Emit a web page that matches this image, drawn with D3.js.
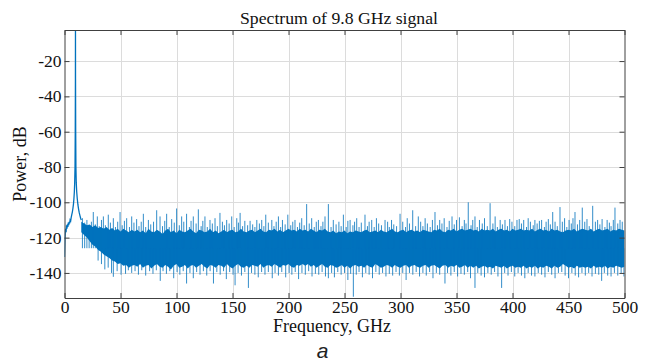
<!DOCTYPE html>
<html><head><meta charset="utf-8">
<script src="https://cdn.jsdelivr.net/npm/d3@7"></script>
<style>
html,body{margin:0;padding:0;background:#fff;}
svg{display:block;}
</style></head>
<body>
<svg id="chart" width="650" height="363"></svg>
<script>
// ---------- data ----------
const title = "Spectrum of 9.8 GHz signal";
const xLabel = "Frequency, GHz";
const yLabel = "Power, dB";
const panelLabel = "a";
const xTicks = [0, 50, 100, 150, 200, 250, 300, 350, 400, 450, 500];
const yTicks = [-140, -120, -100, -80, -60, -40, -20];

// low-frequency part including the carrier peak (GHz, dB)
const lowF = [0, 0.2, 0.4, 0.7, 1.0, 1.4, 1.8, 2.2, 2.6, 3.0, 3.4, 3.8, 4.2, 4.6, 5.0, 5.5, 6.0, 6.5, 7.0, 7.5, 8.0, 8.4, 8.8, 9.1, 9.4, 9.6, 9.75, 9.8, 9.85, 10.0, 10.2, 10.5, 10.9, 11.4, 12.0, 12.6, 13.2, 13.8, 14.4, 15.0];
const lowV = [-131, -126, -121, -117, -115, -117, -113, -115, -112.5, -114, -111.5, -113, -111, -112, -110, -110.5, -108.5, -107, -105.5, -103.5, -101, -98, -94, -89, -80, -60, -30, -1, -30, -60, -80, -89, -94, -98, -101.5, -104, -106, -107.5, -109, -110];

// dense noise floor: upper / lower edge of the solid band, every 2.5 GHz from 15 GHz
const coreF = d3.range(15, 500.01, 2.5);
const coreHi = [
  -111, -112, -113, -112.5, -114, -113, -114.5, -114, -115, -114, -115.5, -114.5, -116, -115, -116.5, -115, -116, -117, -115.5, -116.5,
  -115.5, -117, -116, -117.5, -115, -116.5, -117, -115.5, -116.5, -118, -116, -115, -117, -116, -117.5, -115.5, -116.5, -117, -116, -115,
  -116.5, -117.5, -115.5, -116, -117, -116.5, -115, -117, -116, -117.5, -116.5, -115.5, -117, -116, -115.5, -117, -116.5, -115, -116.5, -117,
  -116, -115.5, -117, -116, -115, -116.5, -117, -115.5, -116, -115, -116.5, -115.5, -117, -116, -115, -116, -115.5, -116.5, -115, -116,
  -115.5, -116.5, -115, -116, -117, -115.5, -116, -115, -116.5, -117, -116, -117.5, -116.5, -117, -116, -117.5, -116.5, -117, -116, -116.5,
  -117, -116, -115.5, -117, -116.5, -116, -117, -115.5, -116.5, -117, -116, -115, -116.5, -117, -116, -115.5, -117, -116, -115.5, -116.5,
  -116, -117, -115.5, -116, -116.5, -117, -115.5, -116, -115, -116.5, -117, -115.5, -116, -115, -116.5, -115.5, -115, -116, -115.5, -115,
  -116, -115.5, -116.5, -115, -116, -115.5, -116, -115, -116.5, -115.5, -115, -116, -115.5, -116.5, -115, -116, -115.5, -115, -116, -115.5,
  -116, -115, -116.5, -115.5, -115, -116, -115.5, -116.5, -115, -116, -115.5, -116.5, -117, -116, -115.5, -116, -115, -116.5, -115.5, -115,
  -115.5, -116, -115, -116.5, -115.5, -115, -116, -115.5, -115, -116.5, -115.5, -116, -115, -115.5, -116];
const coreLo = [
  -117, -118.5, -120, -122, -124, -125, -127, -128, -129.5, -130.5, -131.5, -133, -133.5, -135, -134.5, -136, -135.5, -137, -136, -135.5,
  -136.5, -135, -137, -136, -135.5, -137.5, -136, -135, -136.5, -137, -135.5, -136.5, -138, -136, -135, -137, -136.5, -135.5, -137.5, -136,
  -135.5, -137, -136, -135, -136.5, -137.5, -135.5, -136, -137, -135.5, -136, -137, -135, -136.5, -137.5, -136, -135, -136.5, -137, -136,
  -137, -135.5, -136, -136.5, -135, -137, -136, -135.5, -136.5, -135, -136, -137, -135.5, -136, -135, -136.5, -137, -135.5, -136, -135,
  -136, -135, -136.5, -135.5, -137, -136, -135, -136.5, -137, -135.5, -136, -137, -136.5, -135.5, -137, -136, -137.5, -136, -135.5, -136.5,
  -136, -137, -135.5, -136.5, -137, -135, -136, -137, -136.5, -135.5, -136, -137, -135.5, -136.5, -137, -136, -135.5, -137, -136, -135.5,
  -136.5, -137, -136, -135.5, -137, -136, -135.5, -136.5, -137.5, -136, -135.5, -137, -136, -136.5, -135.5, -137, -136.5, -135.5, -137, -136,
  -137, -136, -137.5, -136.5, -136, -137, -136.5, -137.5, -136, -136.5, -137, -136, -137.5, -136.5, -136, -137, -136.5, -137, -136, -137.5,
  -136.5, -137, -136, -137.5, -136.5, -137, -136, -136.5, -137.5, -136, -137, -136.5, -135, -136, -137, -136.5, -137.5, -136, -137, -136.5,
  -137, -136.5, -137.5, -136, -137, -136.5, -137, -136, -137.5, -136.5, -137, -136, -136.5, -137, -136.5];

// upward noise spikes (GHz, peak dB)
const upF = [16, 18, 20, 22, 24, 25.7, 27.5, 29.3, 31, 33, 34.7, 36.5, 39.1, 41, 43.6, 45.5, 47.5, 49.6,
  51.5, 53.5, 55.5, 58, 60, 62, 64.4, 66.5, 68.5, 70.4, 72.5, 74.9, 77, 79.5, 82.3, 85.3, 87.5, 89.5, 91.2, 93.5, 95.7, 98,
  100.1, 102.5, 104.6, 106.5, 109, 111.5, 113, 115, 117.5, 119.5, 122, 123.5, 125.4, 127.5, 129.9, 132, 134.4, 136.5, 138.8, 141,
  142.8, 144.8, 147, 149.3, 151.5, 153.8, 155.3, 156.8, 159, 161, 163.5, 165.7, 168, 170, 171.7, 174, 176.1, 178, 179.7, 182,
  185.1, 187, 189, 191, 193, 194.6, 197, 199.4, 202, 203.8, 205.8, 208, 210, 211.8, 214, 216.2, 218.5, 220.7, 223, 224.8,
  226.7, 229, 230.7, 232.6, 235.6, 238, 240, 242.5, 245, 247, 249, 251.5, 253, 255, 257.5, 259, 260.9, 263, 265, 268.3,
  270.5, 272, 274.3, 276.5, 278.5, 280.5, 283, 286.2, 288.5, 290, 292, 294, 296.5, 299.6, 302, 304.5, 306, 308, 310.9, 313.5,
  315.9, 318, 320, 322, 324, 326.5, 328.5, 330.8, 333, 335, 337, 339, 341.5, 343.5, 346, 348, 350, 352.6, 355, 357,
  358.5, 360.5, 363, 364.5, 366.5, 368.5, 370.5, 373, 375, 377.5, 380, 382.5, 384.5, 386.5, 389, 391, 393.3, 395.5, 397.5, 399.5,
  402, 404, 406, 408, 410, 412.5, 414, 416, 418.5, 420, 422, 424, 426, 428.5, 430, 432, 433.8, 435.9, 438, 440,
  442.4, 444.5, 446.5, 448.5, 450.5, 452.5, 454, 455.8, 458, 460, 462.3, 464.5, 466.5, 468.5, 471.6, 474, 476, 478, 480, 482.5,
  484.5, 486.5, 488, 490, 491.5, 494, 496, 498];
const upV = [-109, -111.5, -110, -113, -111, -105.5, -112.5, -108, -113.5, -110, -108, -113, -107, -111.5, -109, -114, -111, -105.5,
  -113, -110.5, -109, -114, -108, -111.5, -109.5, -113.5, -111, -106.5, -114, -110, -112.5, -111, -104.5, -108, -113.5, -110.5, -106.5, -114, -109.5, -111.5,
  -103.5, -113, -108, -111, -106.5, -114, -110.5, -108, -112, -104, -113.5, -110.5, -108, -114, -110, -112, -109, -113.5, -106, -111,
  -113, -110, -112, -108, -114, -109, -111.5, -106, -113.5, -110.5, -113, -110.5, -112.5, -114, -110, -112, -110, -113.5, -107, -111.5,
  -110, -113.5, -111, -108, -114, -110, -112.5, -107, -113, -111, -110, -114, -111.5, -109, -113, -101, -112, -109, -114, -111,
  -110, -113.5, -111, -108, -101, -114, -110, -112.5, -111, -113.5, -107, -114, -110.5, -110, -113, -111, -109, -114, -111.5, -107,
  -113.5, -111, -110, -114, -109, -112, -113, -110, -111, -114, -110, -112.5, -113.5, -106.5, -111, -114, -109, -112, -104.5, -113.5,
  -108, -111, -113.5, -109, -112, -114, -110, -105.5, -113, -110, -112, -109, -114, -110.5, -108, -112.5, -110, -108.5, -113.5, -110,
  -112, -100, -113, -110, -108, -114, -110, -112, -109, -113.5, -100.5, -112, -108, -114, -110, -112.5, -110, -113.5, -109.5, -111,
  -113.5, -110, -109.5, -112, -110, -114, -109, -111, -113, -110, -112, -110.5, -110, -114, -111, -109.5, -112.5, -105.5, -111, -113.5,
  -102.7, -111, -109, -114, -110, -112, -109, -105.5, -112.5, -110, -103, -111, -109.5, -113.5, -102, -111, -110, -112.5, -109.5, -114,
  -110, -111.5, -113.5, -110, -103, -112, -110, -111];

// downward noise spikes (GHz, lowest dB)
const dnF = [30, 33, 36, 39, 42, 43.6, 47, 50.5, 54.5, 57, 60, 63, 66, 69, 72.5, 76, 79, 82, 85.5, 88, 91, 94, 97.5,
  100.5, 103, 106, 109, 112, 115, 118, 121, 124, 127, 130, 133, 136, 139, 142, 144.5, 147.5, 150.5, 152.3, 155, 158, 161,
  164.2, 167, 170, 173, 176, 179, 182, 185.5, 188, 191, 194, 197.5, 200.5, 203, 206, 209, 212, 215, 218, 221, 224, 227,
  230, 233, 235.6, 238.5, 241, 244, 247, 250, 253, 255.5, 257.9, 260.5, 263, 266, 269, 272, 275, 278, 281, 284, 287,
  290, 293, 296, 299, 302, 305, 308, 311, 314, 317, 320, 323, 326, 329, 332, 335, 339.7, 342, 345, 348, 351, 354, 357,
  360, 362.5, 366.5, 369, 372, 375, 378, 381, 384, 387, 390.3, 393, 396, 399, 402, 405, 408, 411, 414, 417, 420, 423,
  426, 429, 432, 435, 438, 441, 444, 447, 450, 453, 456, 459, 462, 465, 468, 471, 474, 477, 479.6, 482, 485, 488, 491,
  494, 497, 499.5];
const dnV = [-133, -135, -138, -137, -140, -142.2, -139, -141, -140.5, -138.5, -140, -139, -141, -138.5, -141.5, -139, -140.5, -138.5, -144.5, -139, -140.5, -139, -143,
  -139.5, -141, -139, -146, -140, -143, -139.5, -141, -139, -141.5, -139, -146, -139.5, -141, -139, -143.5, -139.5, -141, -147, -140, -141.5, -139.5,
  -148.5, -140, -141, -142.5, -139.5, -141, -139.5, -143, -140, -141.5, -139.5, -142.5, -140, -141, -139.5, -143.5, -140, -141, -139, -142, -140.5, -141,
  -139.5, -142, -143, -140, -142.5, -139.5, -141, -140, -144, -140.5, -153.5, -141, -139.5, -142.5, -140, -141, -143, -139.5, -141, -140, -142,
  -140.5, -141.5, -139.5, -141.5, -140, -144, -140, -141, -139.5, -142, -140, -141.5, -139.5, -143, -140, -141, -146, -140, -141.5, -139.5, -142, -140.5, -141,
  -139.5, -143, -148.5, -140, -141.5, -142.5, -140, -141, -139.5, -142, -148.5, -140, -141.5, -139.5, -142, -140, -141.5, -143, -140, -141.5, -142, -140,
  -141, -142.5, -139.5, -141, -143, -140, -139.5, -141.5, -143, -140, -141.5, -142.5, -140, -141.5, -140, -142, -140.5, -141, -144.5, -140, -141.5, -142, -140,
  -141.5, -140, -142];

// ---------- drawing ----------
const W = 650, H = 363;
const mL = 64.5, mR = 624.5, mT = 30, mB = 298;
const color = "#0072BD";
const serif = "'Liberation Serif','Times New Roman',serif";

const svg = d3.select("#chart");
svg.append("rect").attr("width", W).attr("height", H).attr("fill", "#ffffff");

const x = d3.scaleLinear().domain([0, 500]).range([mL, mR]);
const y = d3.scaleLinear().domain([-154.2, -2.4]).range([mB, mT]);

svg.append("clipPath").attr("id", "clip").append("rect")
  .attr("x", mL).attr("y", mT).attr("width", mR - mL).attr("height", mB - mT);

// grid
const grid = svg.append("g").attr("stroke", "#dcdcdc").attr("stroke-width", 1);
grid.selectAll("line.gx").data(xTicks.filter(d => d > 0 && d < 500)).enter().append("line")
  .attr("x1", d => Math.round(x(d)) + 0.5).attr("x2", d => Math.round(x(d)) + 0.5)
  .attr("y1", mT).attr("y2", mB);
grid.selectAll("line.gy").data(yTicks).enter().append("line")
  .attr("y1", d => Math.round(y(d)) + 0.5).attr("y2", d => Math.round(y(d)) + 0.5)
  .attr("x1", mL).attr("x2", mR);

const plot = svg.append("g").attr("clip-path", "url(#clip)");

// dense band
const n = Math.min(coreF.length, coreHi.length, coreLo.length);
const band = coreF.slice(0, n).map((f, i) => ({f, hi: coreHi[i], lo: coreLo[i]}));
plot.append("path").datum(band)
  .attr("fill", color)
  .attr("d", d3.area().x(d => x(d.f)).y0(d => y(d.lo)).y1(d => y(d.hi)));

// spikes
const mid = -126;
plot.append("g").selectAll("line").data(upF.map((f, i) => ({f, v: upV[i]}))).enter().append("line")
  .attr("x1", d => x(d.f)).attr("x2", d => x(d.f))
  .attr("y1", y(mid)).attr("y2", d => y(d.v))
  .attr("stroke", color).attr("stroke-width", 1).attr("opacity", 0.8);
plot.append("g").selectAll("line").data(dnF.map((f, i) => ({f, v: dnV[i]}))).enter().append("line")
  .attr("x1", d => x(d.f)).attr("x2", d => x(d.f))
  .attr("y1", y(mid)).attr("y2", d => y(d.v))
  .attr("stroke", color).attr("stroke-width", 1).attr("opacity", 0.8);

// low frequency line + peak
plot.append("path").datum(lowF.map((f, i) => ({f, v: lowV[i]})))
  .attr("fill", "none").attr("stroke", color).attr("stroke-width", 1.3)
  .attr("d", d3.line().x(d => x(d.f)).y(d => y(d.v)));

// axes
function styleAxis(g) {
  g.attr("font-family", serif).attr("font-size", 17.5);
  g.select(".domain").attr("stroke", "#404040").attr("stroke-width", 1);
  g.selectAll(".tick line").attr("stroke", "#404040");
  g.selectAll(".tick text").style("font-family", serif).style("font-size", "17.5px").attr("fill", "#111");
}
const fmt = d => String(d);
svg.append("g").attr("transform", `translate(0,${mB})`)
  .call(d3.axisBottom(x).tickValues(xTicks).tickSizeInner(-5).tickSizeOuter(0).tickPadding(3).tickFormat(fmt))
  .call(styleAxis);
svg.append("g").attr("transform", `translate(0,${mT})`)
  .call(d3.axisTop(x).tickValues(xTicks).tickSizeInner(-5).tickSizeOuter(0).tickFormat(""))
  .call(styleAxis);
svg.append("g").attr("transform", `translate(${mL},0)`)
  .call(d3.axisLeft(y).tickValues(yTicks).tickSizeInner(-5).tickSizeOuter(0).tickPadding(3).tickFormat(fmt))
  .call(styleAxis);
svg.append("g").attr("transform", `translate(${mR},0)`)
  .call(d3.axisRight(y).tickValues(yTicks).tickSizeInner(-5).tickSizeOuter(0).tickFormat(""))
  .call(styleAxis);

// texts
svg.append("text").attr("x", 339).attr("y", 24).attr("text-anchor", "middle")
  .style("font-family", serif).style("font-size", "17.7px").attr("fill", "#111").text(title);
svg.append("text").attr("x", 332).attr("y", 332).attr("text-anchor", "middle")
  .style("font-family", serif).style("font-size", "18px").attr("fill", "#111").text(xLabel);
svg.append("text").attr("transform", `translate(26,${(mT + mB) / 2}) rotate(-90)`).attr("text-anchor", "middle")
  .style("font-family", serif).style("font-size", "18px").attr("fill", "#111").text(yLabel);
svg.append("text").attr("x", 322.5).attr("y", 358).attr("text-anchor", "middle")
  .style("font-family", "'Liberation Sans',Arial,sans-serif").style("font-style", "italic")
  .style("font-size", "21px").attr("fill", "#222").text(panelLabel);
</script>
</body></html>
